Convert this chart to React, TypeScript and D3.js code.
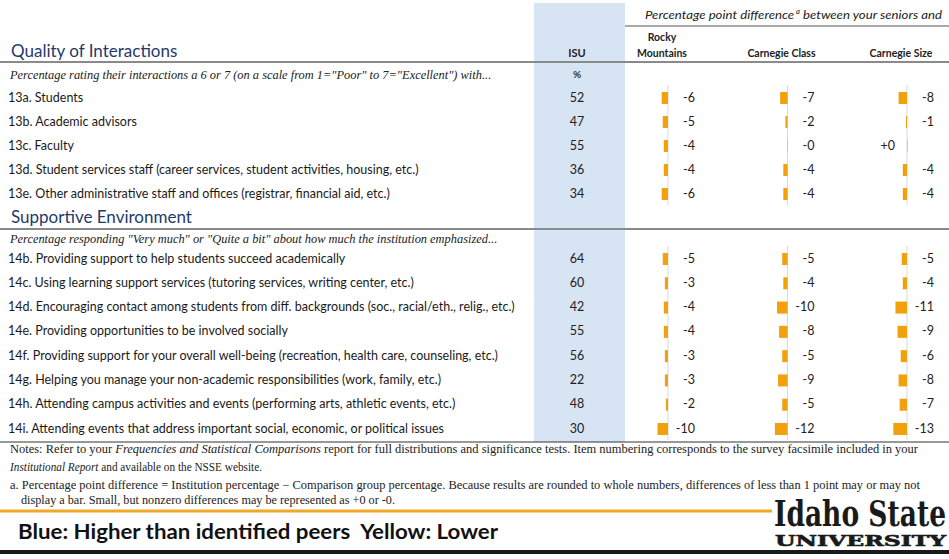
import React from "react";
import * as d3 from "d3";

const W = 949;
const H = 559;

const groups = ["Rocky Mountains", "Carnegie Class", "Carnegie Size"];

const items1 = [
  "13a. Students",
  "13b. Academic advisors",
  "13c. Faculty",
  "13d. Student services staff (career services, student activities, housing, etc.)",
  "13e. Other administrative staff and offices (registrar, financial aid, etc.)",
];
const isu1 = [52, 47, 55, 36, 34];
const rocky1 = [-6, -5, -4, -4, -6];
const class1 = [-7, -2, -0.3, -4, -4];
const size1 = [-8, -1, 0.3, -4, -4];

const items2 = [
  "14b. Providing support to help students succeed academically",
  "14c. Using learning support services (tutoring services, writing center, etc.)",
  "14d. Encouraging contact among students from diff. backgrounds (soc., racial/eth., relig., etc.)",
  "14e. Providing opportunities to be involved socially",
  "14f. Providing support for your overall well-being (recreation, health care, counseling, etc.)",
  "14g. Helping you manage your non-academic responsibilities (work, family, etc.)",
  "14h. Attending campus activities and events (performing arts, athletic events, etc.)",
  "14i. Attending events that address important social, economic, or political issues",
];
const isu2 = [64, 60, 42, 55, 56, 22, 48, 30];
const rocky2 = [-5, -3, -4, -4, -3, -3, -2, -10];
const class2 = [-5, -4, -10, -8, -5, -9, -5, -12];
const size2 = [-5, -4, -11, -9, -6, -8, -7, -13];

const SANS = "Lato, 'Open Sans', sans-serif";
const SERIF = "'Liberation Serif', 'DejaVu Serif', serif";
const NAVY = "#1f3a6b";
const ORANGE = "#f2a10c";
const BLUEBAR = "#5b8fd0";

const fmt = (v: number) => {
  const r = Math.abs(Math.round(v));
  return v < 0 ? `-${r}` : `+${r}`;
};

const colX = d3.scalePoint<string>().domain(groups).range([668, 907]);
const bx = d3.scaleLinear().domain([0, 10]).range([0, 10.5]);

type Section = {
  title: string;
  subtitle: string;
  titleY: number;
  lineY: number;
  subY: number;
  items: string[];
  isu: number[];
  series: number[][];
  range: [number, number];
};

const sections: Section[] = [
  {
    title: "Quality of Interactions",
    subtitle:
      'Percentage rating their interactions a 6 or 7 (on a scale from 1="Poor" to 7="Excellent") with...',
    titleY: 57,
    lineY: 62,
    subY: 79,
    items: items1,
    isu: isu1,
    series: [rocky1, class1, size1],
    range: [97, 193],
  },
  {
    title: "Supportive Environment",
    subtitle:
      'Percentage responding "Very much" or "Quite a bit" about how much the institution emphasized...',
    titleY: 223,
    lineY: 229,
    subY: 243,
    items: items2,
    isu: isu2,
    series: [rocky2, class2, size2],
    range: [258, 428],
  },
];

function SectionView({ s }: { s: Section }) {
  const y = d3.scalePoint<string>().domain(s.items).range(s.range);
  const top = s.range[0] - 12;
  const bottom = s.range[1] + 12;
  return (
    <g>
      <text x={11} y={s.titleY} fontFamily={SANS} fontSize={17} fill={NAVY}>
        {s.title}
      </text>
      <line x1={0} x2={W} y1={s.lineY} y2={s.lineY} stroke="#8a8a8a" strokeWidth={2} />
      <text x={10} y={s.subY} fontFamily={SERIF} fontStyle="italic" fontSize={12.4} fill="#222">
        {s.subtitle}
      </text>
      {groups.map((g) => (
        <line
          key={g}
          x1={colX(g)}
          x2={colX(g)}
          y1={top}
          y2={bottom}
          stroke="#d9d9d9"
          strokeWidth={1}
        />
      ))}
      {s.items.map((it, i) => {
        const cy = y(it)!;
        return (
          <g key={it}>
            <text x={8} y={cy + 4.5} fontFamily={SANS} fontSize={12.5} fill="#1a1a1a">
              {it}
            </text>
            <text
              x={577}
              y={cy + 4.5}
              textAnchor="middle"
              fontFamily={SANS}
              fontSize={12.5}
              fill="#222"
            >
              {s.isu[i]}
            </text>
            {groups.map((g, gi) => {
              const v = s.series[gi][i];
              const x0 = colX(g)!;
              const w = Math.abs(bx(v) - bx(0));
              const neg = v < 0;
              return (
                <g key={g}>
                  {w > 0.01 && (
                    <rect
                      x={neg ? x0 - w : x0}
                      y={cy - 5}
                      width={w}
                      height={12}
                      fill={neg ? ORANGE : BLUEBAR}
                    />
                  )}
                  <text
                    x={neg ? x0 + 27 : x0 - 12}
                    y={cy + 4.5}
                    textAnchor="end"
                    fontFamily={SANS}
                    fontSize={12.5}
                    fill="#222"
                  >
                    {fmt(v)}
                  </text>
                </g>
              );
            })}
          </g>
        );
      })}
    </g>
  );
}

export default function App() {
  return (
    <div style={{ position: "absolute", left: 0, top: 0 }}>
      <svg width={W} height={H} viewBox={`0 0 ${W} ${H}`} style={{ display: "block" }}>
        <rect width={W} height={H} fill="#fff" />
        {/* ISU highlight band */}
        <rect x={534} y={3} width={91} height={439} fill="#d7e4f4" />

        {/* header */}
        <text
          x={645}
          y={19}
          fontFamily={SANS}
          fontStyle="italic"
          fontSize={12}
          fill="#222"
          textLength={297}
          lengthAdjust="spacingAndGlyphs"
        >
          Percentage point difference
          <tspan fontSize={7} dy={-5}>
            {" a"}
          </tspan>
          <tspan dy={5}>{"  between your seniors and"}</tspan>
        </text>
        <line x1={625} x2={W} y1={26} y2={26} stroke="#555" strokeWidth={1.2} />
        <text x={577} y={57} textAnchor="middle" fontFamily={SANS} fontWeight="bold" fontSize={11} fill="#222">
          ISU
        </text>
        <text x={577} y={78} textAnchor="middle" fontFamily={SANS} fontWeight="bold" fontSize={10} fill="#333">
          %
        </text>
        {groups.map((g) => {
          const cx = colX(g)! - 6;
          const parts = g === "Rocky Mountains" ? ["Rocky", "Mountains"] : [g];
          return (
            <g key={g}>
              {parts.map((p, i) => (
                <text
                  key={p}
                  x={cx}
                  y={57 - (parts.length - 1 - i) * 16}
                  textAnchor="middle"
                  fontFamily={SANS}
                  fontWeight="bold"
                  fontSize={10.5}
                  fill="#222"
                >
                  {p}
                </text>
              ))}
            </g>
          );
        })}

        {sections.map((s) => (
          <SectionView key={s.title} s={s} />
        ))}

        {/* notes */}
        <line x1={0} x2={W} y1={442} y2={442} stroke="#333" strokeWidth={1} />
        <text x={10} y={453} fontFamily={SERIF} fontSize={12} fill="#222" textLength={908} lengthAdjust="spacingAndGlyphs">
          Notes: Refer to your <tspan fontStyle="italic">Frequencies and Statistical Comparisons</tspan> report for full
          distributions and significance tests. Item numbering corresponds to the survey facsimile included in your
        </text>
        <text x={10} y={471} fontFamily={SERIF} fontSize={12} fill="#222" textLength={252} lengthAdjust="spacingAndGlyphs">
          <tspan fontStyle="italic">Institutional Report</tspan> and available on the NSSE website.
        </text>
        <text x={10} y={489} fontFamily={SERIF} fontSize={12} fill="#222" textLength={910} lengthAdjust="spacingAndGlyphs">
          a. Percentage point difference = Institution percentage − Comparison group percentage. Because results are
          rounded to whole numbers, differences of less than 1 point may or may not
        </text>
        <text x={21} y={504} fontFamily={SERIF} fontSize={12} fill="#222" textLength={374} lengthAdjust="spacingAndGlyphs">
          display a bar. Small, but nonzero differences may be represented as +0 or -0.
        </text>

        {/* footer */}
        <line x1={0} x2={772} y1={511} y2={511} stroke="#f0a72a" strokeWidth={3} />
        <text
          x={18}
          y={539}
          fontFamily={SANS}
          fontWeight="bold"
          fontSize={20}
          fill="#111"
          textLength={480}
          lengthAdjust="spacingAndGlyphs"
          style={{ whiteSpace: "pre" }}
        >
          {"Blue: Higher than identified peers  Yellow: Lower"}
        </text>
        <text
          x={774}
          y={526}
          fontFamily="'DejaVu Serif Condensed', 'DejaVu Serif', serif"
          fontWeight="bold"
          fontSize={35}
          fill="#1a1a1a"
          textLength={172}
          lengthAdjust="spacingAndGlyphs"
        >
          Idaho State
        </text>
        <text
          x={775}
          y={546}
          fontFamily="'DejaVu Serif', serif"
          fontWeight="bold"
          fontSize={15}
          fill="#1a1a1a"
          stroke="#1a1a1a"
          strokeWidth={0.6}
          textLength={171}
          lengthAdjust="spacingAndGlyphs"
        >
          UNIVERSITY
        </text>
        <rect x={0} y={550} width={W} height={4} fill="#1a1a1a" />
      </svg>
    </div>
  );
}
